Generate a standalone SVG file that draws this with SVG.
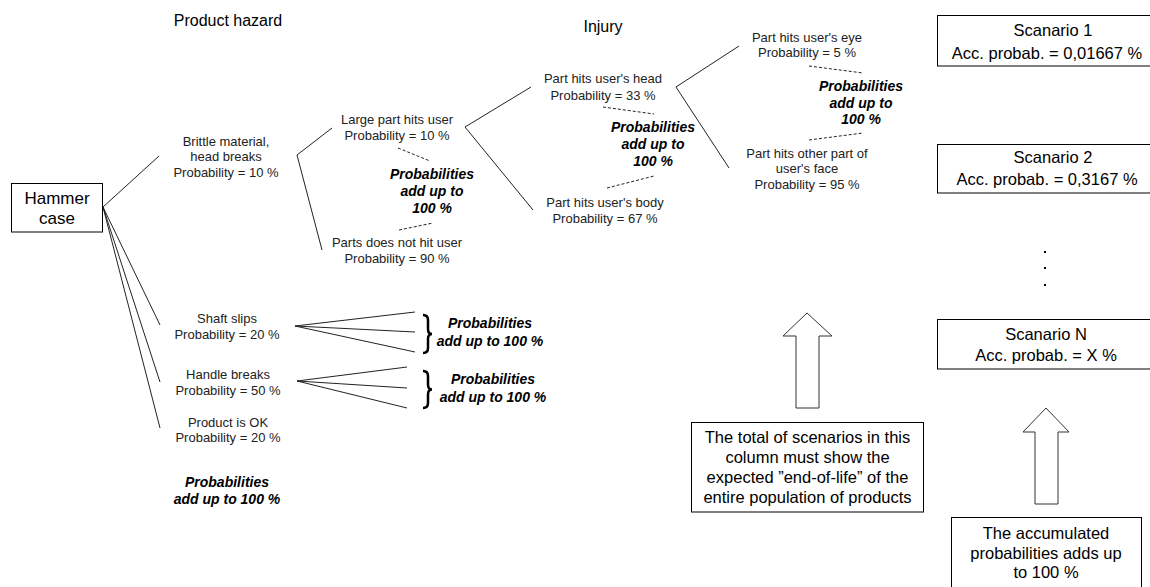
<svg xmlns="http://www.w3.org/2000/svg" width="1150" height="587" viewBox="0 0 1150 587">
<style>
.t{font-family:"Liberation Sans",Arial,sans-serif;font-size:13px;fill:#222;text-anchor:middle}
.b{font-family:"Liberation Sans",Arial,sans-serif;font-size:14px;font-weight:bold;font-style:italic;fill:#000;text-anchor:middle}
.h{font-family:"Liberation Sans",Arial,sans-serif;font-size:16px;fill:#000;text-anchor:middle}
.s{font-family:"Liberation Sans",Arial,sans-serif;font-size:16.5px;fill:#000;text-anchor:middle}
.box{fill:#fff;stroke:#000;stroke-width:1}
.ln{fill:none;stroke:#222;stroke-width:1}
.ds{fill:none;stroke:#222;stroke-width:1;stroke-dasharray:3,2}
.br{fill:none;stroke:#000;stroke-width:2.5}
.ar{fill:#fff;stroke:#333;stroke-width:1}
</style>
<rect width="1150" height="587" fill="#fff"/>
<g id="headers">
<text class="h" x="228" y="26">Product hazard</text>
<text class="h" x="603" y="32">Injury</text>
</g>
<g id="connectors">
<line class="ln" x1="103" y1="207" x2="159" y2="156"/>
<line class="ln" x1="103" y1="207" x2="160" y2="325"/>
<line class="ln" x1="103" y1="207" x2="160" y2="382"/>
<line class="ln" x1="103" y1="207" x2="160" y2="428"/>
<polyline class="ln" points="332,128 297,155 322,250"/>
<polyline class="ln" points="531,87 465,127 533,210"/>
<polyline class="ln" points="739,46 676,87 729,168"/>
<line class="ds" x1="398" y1="148" x2="430" y2="161"/>
<line class="ds" x1="399" y1="230" x2="433" y2="223"/>
<line class="ds" x1="603" y1="107" x2="654" y2="114"/>
<line class="ds" x1="607" y1="188" x2="654" y2="176"/>
<line class="ds" x1="809" y1="66" x2="863" y2="73"/>
<line class="ds" x1="809" y1="140" x2="863" y2="133"/>
<line class="ln" x1="295" y1="326" x2="415" y2="312"/>
<line class="ln" x1="295" y1="326" x2="415" y2="332"/>
<line class="ln" x1="295" y1="326" x2="415" y2="352"/>
<line class="ln" x1="297" y1="381" x2="407" y2="367"/>
<line class="ln" x1="297" y1="381" x2="407" y2="388"/>
<line class="ln" x1="297" y1="381" x2="407" y2="408"/>
<path class="br" d="M423,315 Q428,315 428,320 L428,329 Q428,334 432,334 Q428,334 428,339 L428,348 Q428,353 423,353"/>
<path class="br" d="M423,371 Q428,371 428,376 L428,384.5 Q428,389.5 432,389.5 Q428,389.5 428,394.5 L428,403 Q428,408 423,408"/>
<polygon class="ar" points="807,313 832,336 819,336 819,408 796,408 796,336 783,336"/>
<polygon class="ar" points="1046,408 1069,432 1058,432 1058,504 1035,504 1035,432 1023,432"/>
</g>
<g id="hammer">
<rect class="box" x="11.5" y="183.5" width="91" height="48.5"/>
<text class="h" style="font-size:17px" x="57" y="204">Hammer</text>
<text class="h" style="font-size:17px" x="57" y="224">case</text>
</g>
<g id="brittle">
<text class="t" x="226" y="146">Brittle material,</text>
<text class="t" x="226" y="161">head breaks</text>
<text class="t" x="226" y="177">Probability = 10 %</text>
</g>
<g id="large-part">
<text class="t" x="397" y="124">Large part hits user</text>
<text class="t" x="397" y="140">Probability = 10 %</text>
</g>
<g id="sum1">
<text class="b" x="432" y="179">Probabilities</text>
<text class="b" x="432" y="196">add up to</text>
<text class="b" x="432" y="213">100 %</text>
</g>
<g id="not-hit">
<text class="t" x="397" y="247">Parts does not hit user</text>
<text class="t" x="397" y="263">Probability = 90 %</text>
</g>
<g id="head">
<text class="t" x="603" y="83">Part hits user's head</text>
<text class="t" x="603" y="100">Probability = 33 %</text>
</g>
<g id="sum2">
<text class="b" x="653" y="132">Probabilities</text>
<text class="b" x="653" y="149">add up to</text>
<text class="b" x="653" y="166">100 %</text>
</g>
<g id="body">
<text class="t" x="605" y="207">Part hits user's body</text>
<text class="t" x="605" y="223">Probability = 67 %</text>
</g>
<g id="eye">
<text class="t" x="807" y="42">Part hits user's eye</text>
<text class="t" x="807" y="57">Probability = 5 %</text>
</g>
<g id="sum3">
<text class="b" x="861" y="91">Probabilities</text>
<text class="b" x="861" y="108">add up to</text>
<text class="b" x="861" y="124">100 %</text>
</g>
<g id="face">
<text class="t" x="807" y="158">Part hits other part of</text>
<text class="t" x="807" y="173">user's face</text>
<text class="t" x="807" y="189">Probability = 95 %</text>
</g>
<g id="shaft">
<text class="t" x="227" y="323">Shaft slips</text>
<text class="t" x="227" y="339">Probability = 20 %</text>
</g>
<g id="sum-shaft">
<text class="b" x="490" y="328">Probabilities</text>
<text class="b" x="490" y="346">add up to 100 %</text>
</g>
<g id="handle">
<text class="t" x="228" y="379">Handle breaks</text>
<text class="t" x="228" y="395">Probability = 50 %</text>
</g>
<g id="sum-handle">
<text class="b" x="493" y="384">Probabilities</text>
<text class="b" x="493" y="402">add up to 100 %</text>
</g>
<g id="ok">
<text class="t" x="228" y="427">Product is OK</text>
<text class="t" x="228" y="442">Probability = 20 %</text>
</g>
<g id="sum-top">
<text class="b" x="227" y="487">Probabilities</text>
<text class="b" x="227" y="504">add up to 100 %</text>
</g>
<g id="scenario1">
<rect class="box" x="937.5" y="15.5" width="222" height="50.5"/>
<text class="s" x="1053" y="36">Scanario 1</text>
<text class="s" x="1047" y="59">Acc. probab. = 0,01667 %</text>
</g>
<g id="scenario2">
<rect class="box" x="937.5" y="144.5" width="222" height="48.5"/>
<text class="s" x="1053" y="163">Scanario 2</text>
<text class="s" x="1047" y="185">Acc. probab. = 0,3167 %</text>
</g>
<g id="dots">
<rect x="1044" y="251" width="2" height="2" fill="#000"/>
<rect x="1044" y="267" width="2" height="2" fill="#000"/>
<rect x="1044" y="284" width="2" height="2" fill="#000"/>
</g>
<g id="scenarioN">
<rect class="box" x="937.5" y="319.5" width="222" height="49.5"/>
<text class="s" x="1046" y="340">Scanario N</text>
<text class="s" x="1046" y="361">Acc. probab. = X %</text>
</g>
<g id="note-total">
<rect class="box" x="691.5" y="422.5" width="232" height="89.5"/>
<text class="s" x="807.5" y="443">The total of scenarios in this</text>
<text class="s" x="807.5" y="463">column must show the</text>
<text class="s" x="807.5" y="483">expected ”end-of-life” of the</text>
<text class="s" x="807.5" y="503">entire population of products</text>
</g>
<g id="note-acc">
<rect class="box" x="951.5" y="517.5" width="190" height="90"/>
<text class="s" x="1046" y="539">The accumulated</text>
<text class="s" x="1046" y="559">probabilities adds up</text>
<text class="s" x="1046" y="578">to 100 %</text>
</g>
</svg>
